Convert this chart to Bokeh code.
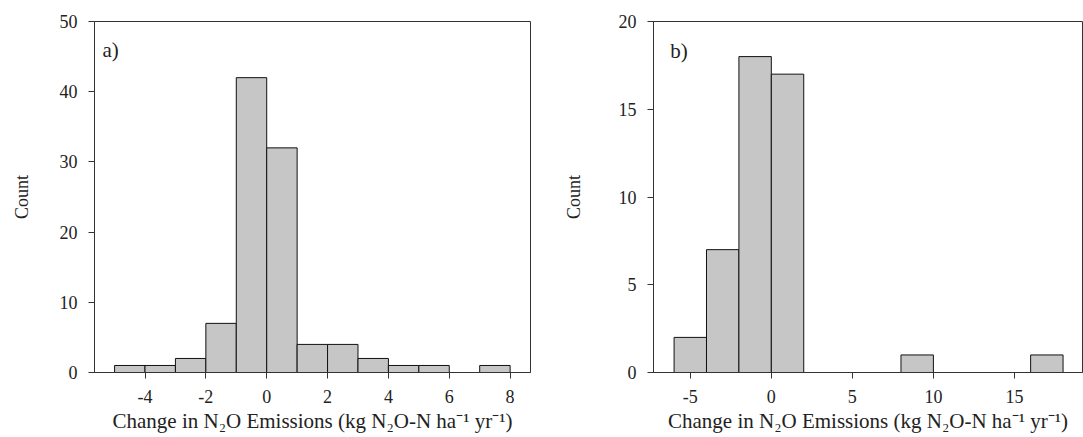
from bokeh.plotting import figure
from bokeh.layouts import row
from bokeh.models import FixedTicker, Range1d, Label
from bokeh.embed import file_html
from bokeh.resources import INLINE

# ---- data ----
a_edges = [-5, -4, -3, -2, -1, 0, 1, 2, 3, 4, 5, 6, 7, 8]
a_counts = [1, 1, 2, 7, 42, 32, 4, 4, 2, 1, 1, 0, 1]
a_xticks = [-4, -2, 0, 2, 4, 6, 8]
a_yticks = [0, 10, 20, 30, 40, 50]

b_edges = [-6, -4, -2, 0, 2, 4, 6, 8, 10, 12, 14, 16, 18]
b_counts = [2, 7, 18, 17, 0, 0, 0, 1, 0, 0, 0, 1]
b_xticks = [-5, 0, 5, 10, 15]
b_yticks = [0, 5, 10, 15, 20]

xlabel = "Change in N\u2082O Emissions (kg N\u2082O-N ha\u207b\u00b9 yr\u207b\u00b9)"
ylabel = "Count"
FONT = "Liberation Serif"
TXT = "#222222"
LINE = "#333333"
FILL = "#c6c6c6"


def make(edges, counts, xr, yr, xticks, yticks, tag, tag_xy, width, bl, br, ystand):
    p = figure(width=width, height=437, output_backend="svg", toolbar_location=None,
               x_range=Range1d(*xr), y_range=Range1d(*yr),
               min_border_left=bl, min_border_right=br, min_border_top=21, min_border_bottom=65)
    p.grid.visible = False
    p.outline_line_color = LINE
    p.outline_line_width = 1
    L = [edges[i] for i in range(len(counts)) if counts[i] > 0]
    R = [edges[i + 1] for i in range(len(counts)) if counts[i] > 0]
    T = [c for c in counts if c > 0]
    p.quad(left=L, right=R, top=T, bottom=0, fill_color=FILL, line_color="#111111", line_width=1)
    p.xaxis.ticker = FixedTicker(ticks=xticks)
    p.yaxis.ticker = FixedTicker(ticks=yticks)
    p.xaxis.major_label_overrides = {t: str(t) for t in xticks}
    for ax in (p.xaxis[0], p.yaxis[0]):
        ax.axis_line_color = LINE
        ax.major_tick_line_color = LINE
        ax.minor_tick_line_color = None
        ax.major_tick_in = 0
        ax.major_tick_out = 6
        ax.major_label_text_font = FONT
        ax.major_label_text_font_size = "18px"
        ax.major_label_text_color = TXT
        ax.axis_label_text_font = FONT
        ax.axis_label_text_font_style = "normal"
        ax.axis_label_text_color = TXT
    p.xaxis.axis_label = xlabel
    p.xaxis.axis_label_text_font_size = "21px"
    p.xaxis.major_label_standoff = 11
    p.xaxis.axis_label_standoff = 3
    p.yaxis.axis_label = ylabel
    p.yaxis.axis_label_text_font_size = "18px"
    p.yaxis.major_label_standoff = 11
    p.yaxis.axis_label_standoff = ystand
    p.add_layout(Label(x=tag_xy[0], y=tag_xy[1], text=tag, text_font=FONT,
                       text_font_size="21px", text_color=TXT, text_baseline="alphabetic"))
    return p


p1 = make(a_edges, a_counts, (-5.66, 8.67), (0, 50), a_xticks, a_yticks, "a)", (-5.40, 46.0), 560, 94, 30, 25)
p2 = make(b_edges, b_counts, (-7.27, 19.2), (0, 20), b_xticks, b_yticks, "b)", (-6.24, 18.3), 523, 85, 1, 32)

layout = row(p1, p2)
open("out.html", "w").write(file_html(layout, INLINE))
